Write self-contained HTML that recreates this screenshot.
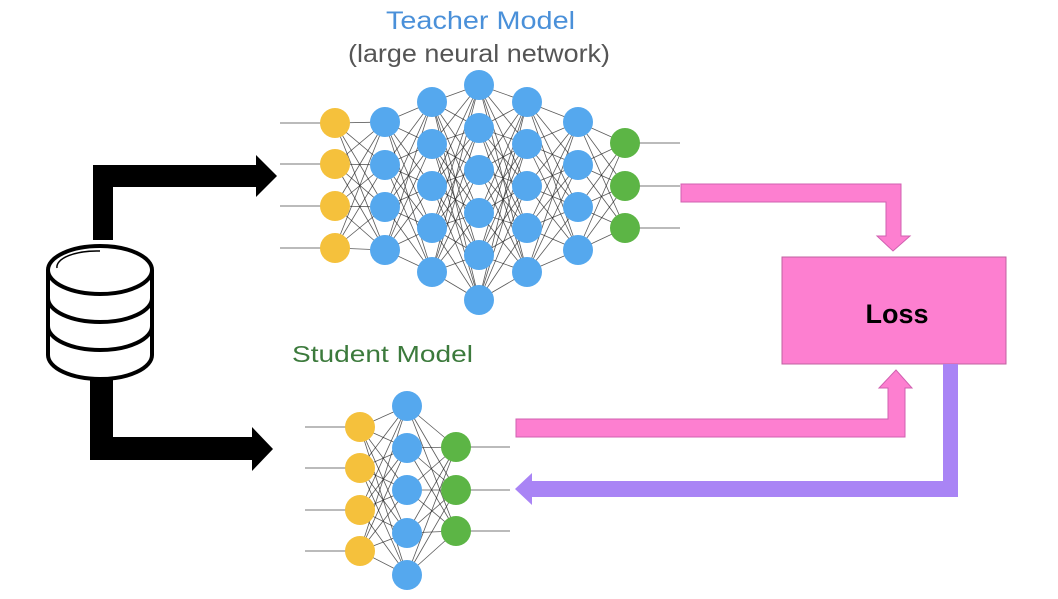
<!DOCTYPE html>
<html><head><meta charset="utf-8">
<style>
html,body{margin:0;padding:0;background:#fff;}
svg{display:block;}
</style></head>
<body>
<svg id="s" width="1058" height="599" viewBox="0 0 1058 599" xmlns="http://www.w3.org/2000/svg">
<rect width="1058" height="599" fill="#fff"/>
<text x="386" y="29" textLength="189" lengthAdjust="spacingAndGlyphs" font-family="Liberation Sans, sans-serif" font-size="25" fill="#4a90d9">Teacher Model</text>
<text x="348" y="62" textLength="262" lengthAdjust="spacingAndGlyphs" font-family="Liberation Sans, sans-serif" font-size="25" fill="#555">(large neural network)</text>
<text x="292" y="362" textLength="181" lengthAdjust="spacingAndGlyphs" font-family="Liberation Sans, sans-serif" font-size="23" fill="#3c7a3c">Student Model</text>
<g id="edges" stroke="#222" stroke-width="0.8" stroke-opacity="0.75"></g>
<g id="lines" stroke="#bbb" stroke-width="2"></g>
<g id="nodes"></g>
<path d="M93 240 V165 H256 V155 L277 176 L256 197 V187 H113 V240 Z" fill="#000"/>
<path d="M90 378 V460 H252 V471 L273 449 L252 427 V437 H113 V378 Z" fill="#000"/>
<g fill="#fff" stroke="#000" stroke-width="4">
<path d="M48 270 V355 A52 24 0 0 0 152 355 V270"/>
<path d="M48 298 A52 24 0 0 0 152 298"/>
<path d="M48 326 A52 24 0 0 0 152 326"/>
<ellipse cx="100" cy="270" rx="52" ry="24"/>
</g>
<path d="M57 268 A40 16 0 0 1 100 251" fill="none" stroke="#000" stroke-width="1.5"/>
<path d="M681 184 H901 V236 H910 L893 251 L877 236 H886 V202 H681 Z" fill="#fd7fd0" stroke="#d060b0" stroke-width="1"/>
<path d="M516 419 H888 V388 H879 L896 370 L912 388 H905 V437 H516 Z" fill="#fd7fd0" stroke="#d060b0" stroke-width="1"/>
<rect x="782" y="257" width="224" height="107" fill="#fd7fd0" stroke="#c060a0" stroke-width="1"/>
<text x="897" y="323" text-anchor="middle" font-family="Liberation Sans, sans-serif" font-weight="bold" font-size="27" fill="#000">Loss</text>
<path d="M943 364 H958 V497 H532 V505 L515 489 L532 473 V481 H943 Z" fill="#a984f5"/>
</svg>
<script>
var NS="http://www.w3.org/2000/svg";
function el(t,a,p){var e=document.createElementNS(NS,t);for(var k in a)e.setAttribute(k,a[k]);document.getElementById(p).appendChild(e);}
var Y="#f5c13c",B="#55a8ee",G="#5cb545";
function net(layers,inX0,outX1){
 for(var i=0;i<layers.length-1;i++){var A=layers[i],C=layers[i+1];
  A.ys.forEach(function(a){C.ys.forEach(function(c){el("line",{x1:A.x,y1:a,x2:C.x,y2:c},"edges");});});}
 var f=layers[0],l=layers[layers.length-1];
 f.ys.forEach(function(y){el("line",{x1:inX0,y1:y,x2:f.x,y2:y},"lines");});
 l.ys.forEach(function(y){el("line",{x1:l.x,y1:y,x2:outX1,y2:y},"lines");});
 layers.forEach(function(L){L.ys.forEach(function(y){el("circle",{cx:L.x,cy:y,r:15,fill:L.c},"nodes");});});
}
net([
 {x:335,ys:[123,164,206,248],c:Y},
 {x:385,ys:[122,165,207,250],c:B},
 {x:432,ys:[102,144,186,228,272],c:B},
 {x:479,ys:[85,128,170,213,255,300],c:B},
 {x:527,ys:[102,144,186,228,272],c:B},
 {x:578,ys:[122,165,207,250],c:B},
 {x:625,ys:[143,186,228],c:G}
],280,680);
net([
 {x:360,ys:[427,468,510,551],c:Y},
 {x:407,ys:[406,448,490,533,575],c:B},
 {x:456,ys:[447,490,531],c:G}
],305,510);
</script>
</body></html>
